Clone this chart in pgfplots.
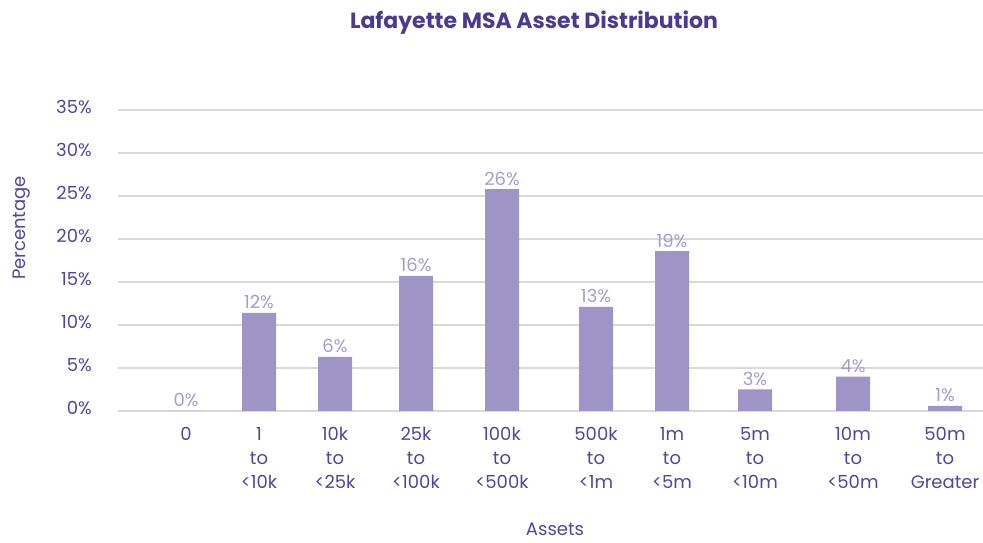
\documentclass[border=0pt]{standalone}
\usepackage{pgfplots}
\pgfplotsset{compat=1.18}
\usepackage{pgfplotstable}
\usepackage{fontspec}
\setmainfont{Poppins}
\definecolor{titlecol}{RGB}{74,58,148}
\definecolor{tickcol}{RGB}{82,70,155}
\definecolor{barcol}{RGB}{158,148,198}
\definecolor{labcol}{RGB}{165,156,204}
\definecolor{gridcol}{RGB}{217,217,217}

\pgfplotstableread{
x y lab
186 0 0
259 11.4 12
335 6.3 6
416 15.7 16
502 25.8 26
596 12.1 13
672 18.6 19
755 2.5 3
853 4.0 4
945 0.6 1
}\assets

\begin{document}
\begin{tikzpicture}
\path[use as bounding box] (0pt,0pt) rectangle (983pt,543pt);
\begin{axis}[
  at={(118pt,132pt)}, anchor=south west,
  scale only axis, width=865pt, height=301pt,
  xmin=118, xmax=983, ymin=0, ymax=35,
  axis line style={draw=none},
  major tick length=0pt,
  ymajorgrids, grid style={gridcol, line width=1.6pt},
  ytick={0,5,...,35},
  yticklabels={0\%,5\%,10\%,15\%,20\%,25\%,30\%,35\%},
  yticklabel style={font=\fontsize{18}{22}\selectfont, text=tickcol, anchor=east, inner sep=0pt, xshift=-26pt, yshift=3pt},
  xtick={186,259,335,416,502,596,672,755,853,945},
  xticklabels={0, {1\\to\\<10k}, {10k\\to\\<25k}, {25k\\to\\<100k}, {100k\\to\\<500k}, {500k\\to\\<1m}, {1m\\to\\<5m}, {5m\\to\\<10m}, {10m\\to\\<50m}, {50m\\to\\Greater}},
  xticklabel style={font=\fontsize{18}{24}\selectfont, text=tickcol, align=center, anchor=north, inner sep=0pt, yshift=-16pt},
  clip=false,
]
\addplot[ybar, bar width=34, fill=barcol, draw=none,
  point meta=explicit symbolic,
  nodes near coords={\pgfplotspointmeta\%},
  every node near coord/.append style={font=\fontsize{18}{22}\selectfont, text=labcol, anchor=base, inner sep=0pt, yshift=4pt}]
  table[x=x, y=y, meta=lab] {\assets};
\end{axis}
\node[anchor=base, text=titlecol, font=\fontsize{22}{26}\bfseries\selectfont] at (534pt,514pt) {Lafayette MSA Asset Distribution};
\node[anchor=base, rotate=90, text=tickcol, font=\fontsize{18}{22}\selectfont] at (25pt,315pt) {Percentage};
\node[anchor=base, text=tickcol, font=\fontsize{18}{22}\selectfont] at (555pt,7pt) {Assets};
\end{tikzpicture}
\end{document}
